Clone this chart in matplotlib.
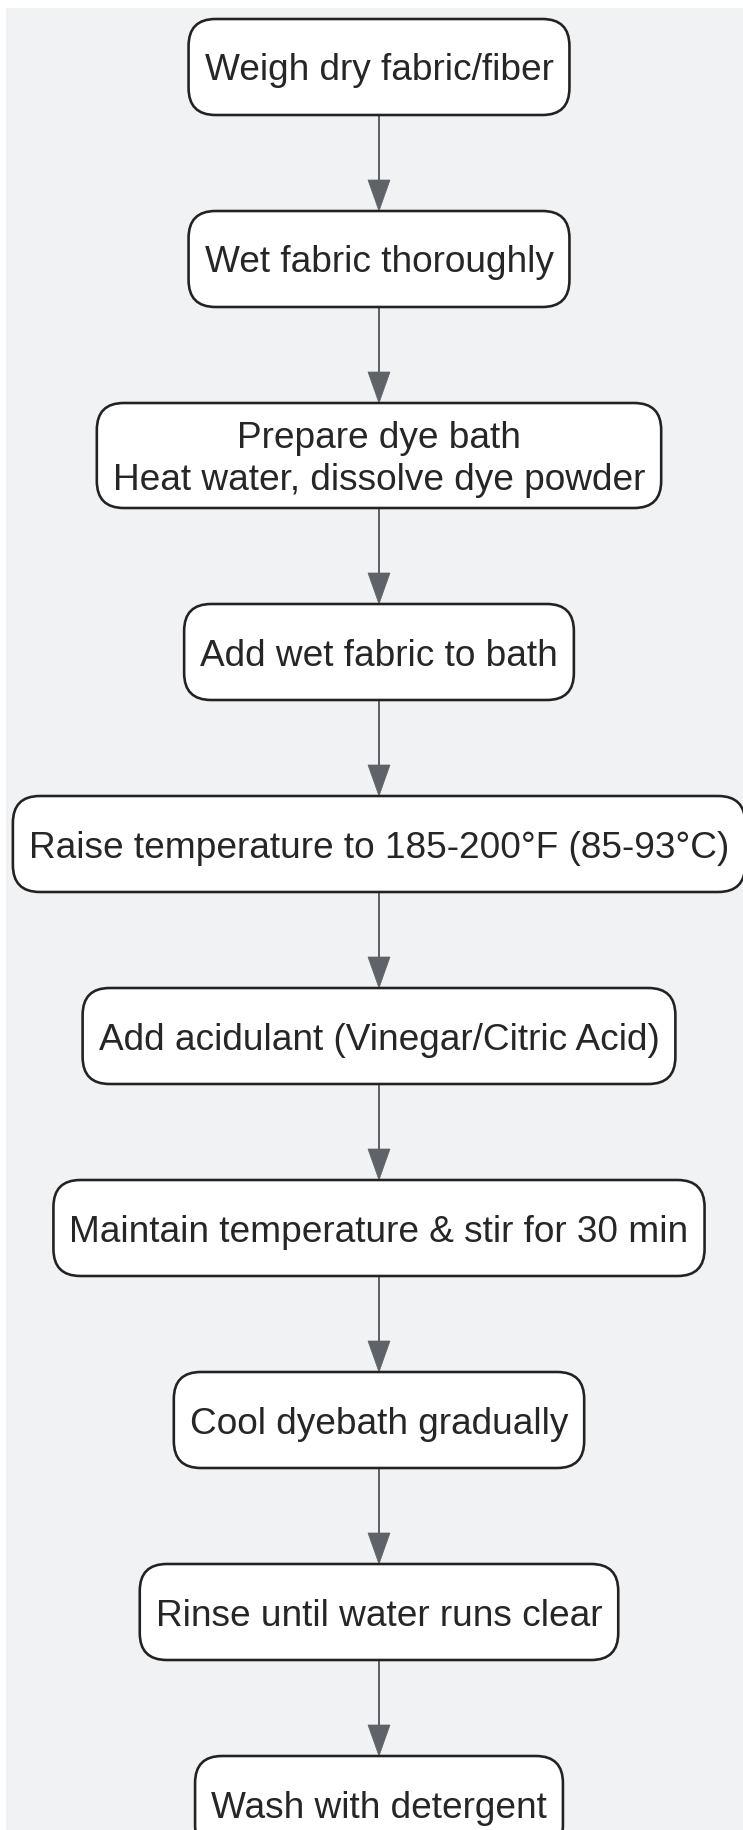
import matplotlib
matplotlib.use("Agg")
import matplotlib.pyplot as plt
from matplotlib.patches import FancyBboxPatch, Polygon, Rectangle

# ---- data ----
steps = [
    "Weigh dry fabric/fiber",
    "Wet fabric thoroughly",
    "Prepare dye bath\nHeat water, dissolve dye powder",
    "Add wet fabric to bath",
    "Raise temperature to 185-200°F (85-93°C)",
    "Add acidulant (Vinegar/Citric Acid)",
    "Maintain temperature & stir for 30 min",
    "Cool dyebath gradually",
    "Rinse until water runs clear",
    "Wash with detergent",
]

# ---- style ----
W, H, DPI = 743, 1830, 100
BG = "#f1f2f4"
BOX_EDGE = "#222222"
TEXT_C = "#262626"
ARROW_C = "#5f6368"
FONT = ["Liberation Sans", "DejaVu Sans"]
FS_PX = 37.0
FS = FS_PX * 72 / DPI
CX = 379.0
TOP = 19.0
GAP = 96.0
H_SINGLE = 96.0
H_EXTRA = 9.0
LINE_STEP = 43.0
TEXT_DY = 4.0
PAD_X = 16.0
RADIUS = 27.0
HEAD_L, HEAD_W = 31.0, 22.0
LW = 2.0 * 72 / DPI
BOX_LW = 2.6 * 72 / DPI

fig = plt.figure(figsize=(W / DPI, H / DPI), dpi=DPI, facecolor="white")
ax = fig.add_axes([0, 0, 1, 1])
ax.set_xlim(0, W)
ax.set_ylim(H, 0)
ax.axis("off")

ax.add_patch(Rectangle((6, 8), W - 6, H - 8, facecolor=BG, edgecolor="none", zorder=0))

fig.canvas.draw()
renderer = fig.canvas.get_renderer()

y = TOP
boxes = []
for label in steps:
    lines = label.split("\n")
    h = H_SINGLE + H_EXTRA * (len(lines) - 1)
    cy = y + h / 2
    widths = []
    n = len(lines)
    for i, ln in enumerate(lines):
        ly = cy + (i - (n - 1) / 2) * LINE_STEP + TEXT_DY
        t = ax.text(CX, ly, ln, ha="center", va="center", fontsize=FS,
                    family=FONT, color=TEXT_C, zorder=3)
        widths.append(t.get_window_extent(renderer).width)
    bw = max(widths) + 2 * PAD_X
    box = FancyBboxPatch((CX - bw / 2, y), bw, h,
                         boxstyle=f"round,pad=0,rounding_size={RADIUS}",
                         facecolor="white", edgecolor=BOX_EDGE, linewidth=BOX_LW,
                         zorder=2)
    ax.add_patch(box)
    boxes.append((y, y + h))
    y = y + h + GAP

for (t0, b0), (t1, b1) in zip(boxes[:-1], boxes[1:]):
    ax.plot([CX, CX], [b0, t1 - HEAD_L + 2], color=ARROW_C, lw=LW,
            solid_capstyle="butt", zorder=1)
    head = Polygon([(CX - HEAD_W / 2, t1 - HEAD_L), (CX + HEAD_W / 2, t1 - HEAD_L),
                    (CX, t1)], closed=True, facecolor=ARROW_C, edgecolor=ARROW_C,
                   linewidth=0.5, zorder=1)
    ax.add_patch(head)

fig.savefig("out.png", dpi=DPI, facecolor="white")
